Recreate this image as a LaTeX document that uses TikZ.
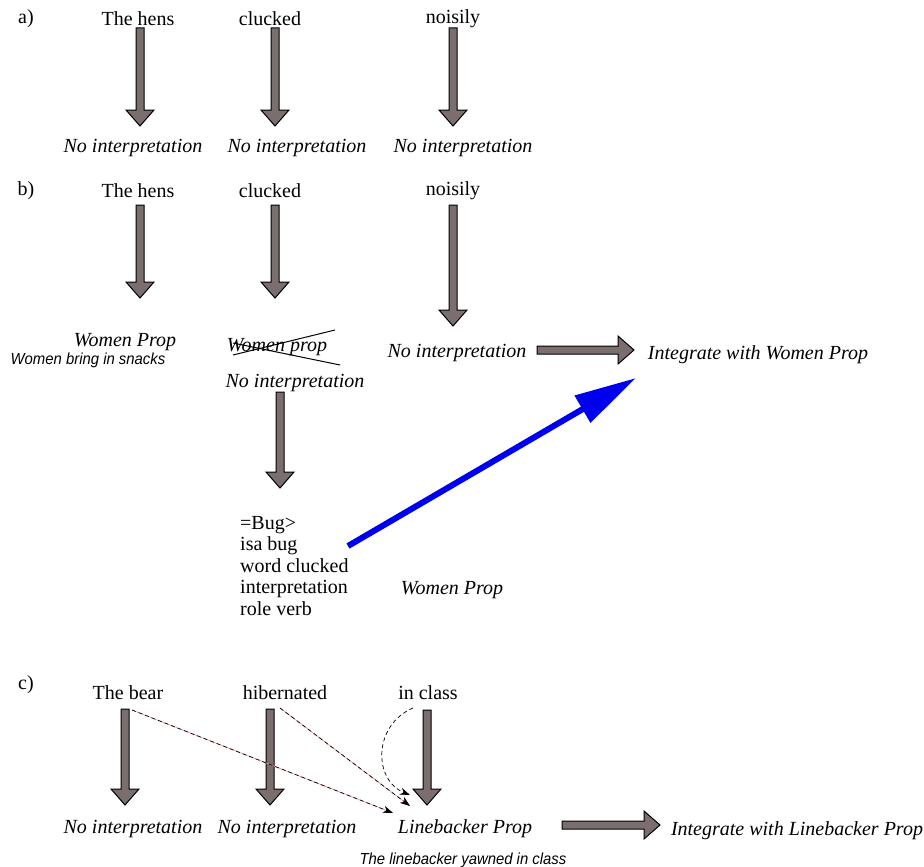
\documentclass[tikz,border=0pt]{standalone}
\usepackage{fontspec}
\setmainfont{Liberation Serif}
\newfontfamily\helvfont[FakeStretch=0.93]{Liberation Sans}
\usetikzlibrary{arrows.meta}
\usetikzlibrary{calc}

\definecolor{arrowgray}{RGB}{122,110,110}
\definecolor{propblue}{RGB}{0,0,240}
\definecolor{linkpink}{RGB}{235,150,150}

% block arrow from #1 to #2
\newcommand{\fatarrow}[2]{%
  \coordinate (fa-base) at ($(#2)!16pt!(#1)$);
  \draw[fatStyle] ($(#1)!4pt!90:(#2)$) -- ($(fa-base)!4pt!90:(#2)$) -- ($(fa-base)!14pt!90:(#2)$) -- (#2)
    -- ($(fa-base)!14pt!-90:(#2)$) -- ($(fa-base)!4pt!-90:(#2)$) -- ($(#1)!4pt!-90:(#2)$) -- cycle;}

\begin{document}
\begin{tikzpicture}[x = 1pt, y = -1pt, font=\fontsize{20}{24}\selectfont]
	\tikzstyle{wordStyle} = [inner sep = 0pt]
	\tikzstyle{interpStyle} = [inner sep = 0pt, font=\fontsize{20}{24}\selectfont\itshape]
	\tikzstyle{sentStyle} = [inner sep = 0pt, font=\helvfont\fontsize{16}{18}\selectfont\itshape]
	\tikzstyle{fatStyle} = [draw = black, fill = arrowgray, line width = 1pt, line join = miter]
	\tikzstyle{linkStyle} = [draw = linkpink, line width = 0.7pt, postaction = {draw = black, dash pattern = on 4pt off 3pt}, -{Stealth[length = 10pt, width = 7pt]}]
	\tikzstyle{curveStyle} = [draw = black, line width = 0.7pt, dash pattern = on 4pt off 3pt, -{Stealth[length = 10pt, width = 7pt]}]
	\useasboundingbox (0,0) rectangle (924,867);
	% a)
	\node[wordStyle] (aLabel) at (26,19) {a)};
	\node[wordStyle] (aHens) at (138,19) {The hens};
	\node[wordStyle] (aClucked) at (270,19) {clucked};
	\node[wordStyle] (aNoisily) at (453,19) {noisily};
	\node[interpStyle] (aNone1) at (133,148) {No interpretation};
	\node[interpStyle] (aNone2) at (297,148) {No interpretation};
	\node[interpStyle] (aNone3) at (463,148) {No interpretation};
	\coordinate (aT1) at (140,28);  \coordinate (aB1) at (140,126);
	\coordinate (aT2) at (275,28);  \coordinate (aB2) at (275,126);
	\coordinate (aT3) at (453,28);  \coordinate (aB3) at (453,126);
	\fatarrow{aT1}{aB1}
	\fatarrow{aT2}{aB2}
	\fatarrow{aT3}{aB3}
	% b)
	\node[wordStyle] (bLabel) at (26,191) {b)};
	\node[wordStyle] (bHens) at (138,191) {The hens};
	\node[wordStyle] (bClucked) at (270,191) {clucked};
	\node[wordStyle] (bNoisily) at (453,191) {noisily};
	\node[interpStyle] (bWomen) at (125,342) {Women Prop};
	\node[sentStyle] (bSnacks) at (88,360) {Women bring in snacks};
	\node[interpStyle] (bStruck) at (277,347) {Women prop};
	\node[interpStyle] (bNone2) at (295,383) {No interpretation};
	\node[interpStyle] (bNone3) at (457,353) {No interpretation};
	\node[interpStyle] (bIntegrate) at (758,355) {Integrate with Women Prop};
	\node[wordStyle, anchor = north west, align = left, font=\fontsize{20}{21.5}\selectfont] (bBug) at (240,516)
		{=Bug>\\isa bug\\word clucked\\interpretation\\role verb};
	\node[interpStyle] (bWomenBug) at (452,590) {Women Prop};
	\draw[line width = 1pt] (233,343) -- (340,365);
	\draw[line width = 1pt] (233,355) -- (335,330);
	\coordinate (bT1) at (140,205);  \coordinate (bB1) at (140,298);
	\coordinate (bT2) at (275,205);  \coordinate (bB2) at (275,298);
	\coordinate (bT3) at (453,205);  \coordinate (bB3) at (453,326);
	\coordinate (bT4) at (280,392);  \coordinate (bB4) at (280,488);
	\coordinate (bL5) at (537,350);  \coordinate (bR5) at (634,350);
	\fatarrow{bT1}{bB1}
	\fatarrow{bT2}{bB2}
	\fatarrow{bT3}{bB3}
	\fatarrow{bT4}{bB4}
	\fatarrow{bL5}{bR5}
	\coordinate (bBugOut) at (348,546);
	\coordinate (bIntIn) at (636,378);
	\draw[propblue, line width = 6pt, -{Triangle[length = 62pt, width = 30pt]}] (bBugOut) -- (bIntIn);
	% c)
	\node[wordStyle] (cLabel) at (26,685) {c)};
	\node[wordStyle] (cBear) at (128,693) {The bear};
	\node[wordStyle] (cHibernated) at (285,693) {hibernated};
	\node[wordStyle] (cClass) at (428,693) {in class};
	\node[interpStyle] (cNone1) at (133,829) {No interpretation};
	\node[interpStyle] (cNone2) at (287,829) {No interpretation};
	\node[interpStyle] (cLine) at (465,829) {Linebacker Prop};
	\node[sentStyle] (cYawned) at (463,860) {The linebacker yawned in class};
	\node[interpStyle] (cIntegrate) at (797,831) {Integrate with Linebacker Prop};
	\coordinate (cT1) at (125,709);  \coordinate (cB1) at (125,805);
	\coordinate (cT2) at (270,709);  \coordinate (cB2) at (270,805);
	\coordinate (cT3) at (427,710);  \coordinate (cB3) at (427,805);
	\coordinate (cL4) at (562,825);  \coordinate (cR4) at (660,825);
	\fatarrow{cT1}{cB1}
	\fatarrow{cT2}{cB2}
	\fatarrow{cT3}{cB3}
	\fatarrow{cL4}{cR4}
	\coordinate (cBearOut) at (132,710);  \coordinate (cLineIn1) at (393,813);
	\coordinate (cHibOut) at (280,708);   \coordinate (cLineIn2) at (410,806);
	\coordinate (cClassOut) at (413,708); \coordinate (cLineIn3) at (410,795);
	\draw[linkStyle] (cBearOut) -- (cLineIn1);
	\draw[linkStyle] (cHibOut) -- (cLineIn2);
	\draw[curveStyle] (cClassOut) .. controls (373,725) and (373,780) .. (cLineIn3);
\end{tikzpicture}
\end{document}
